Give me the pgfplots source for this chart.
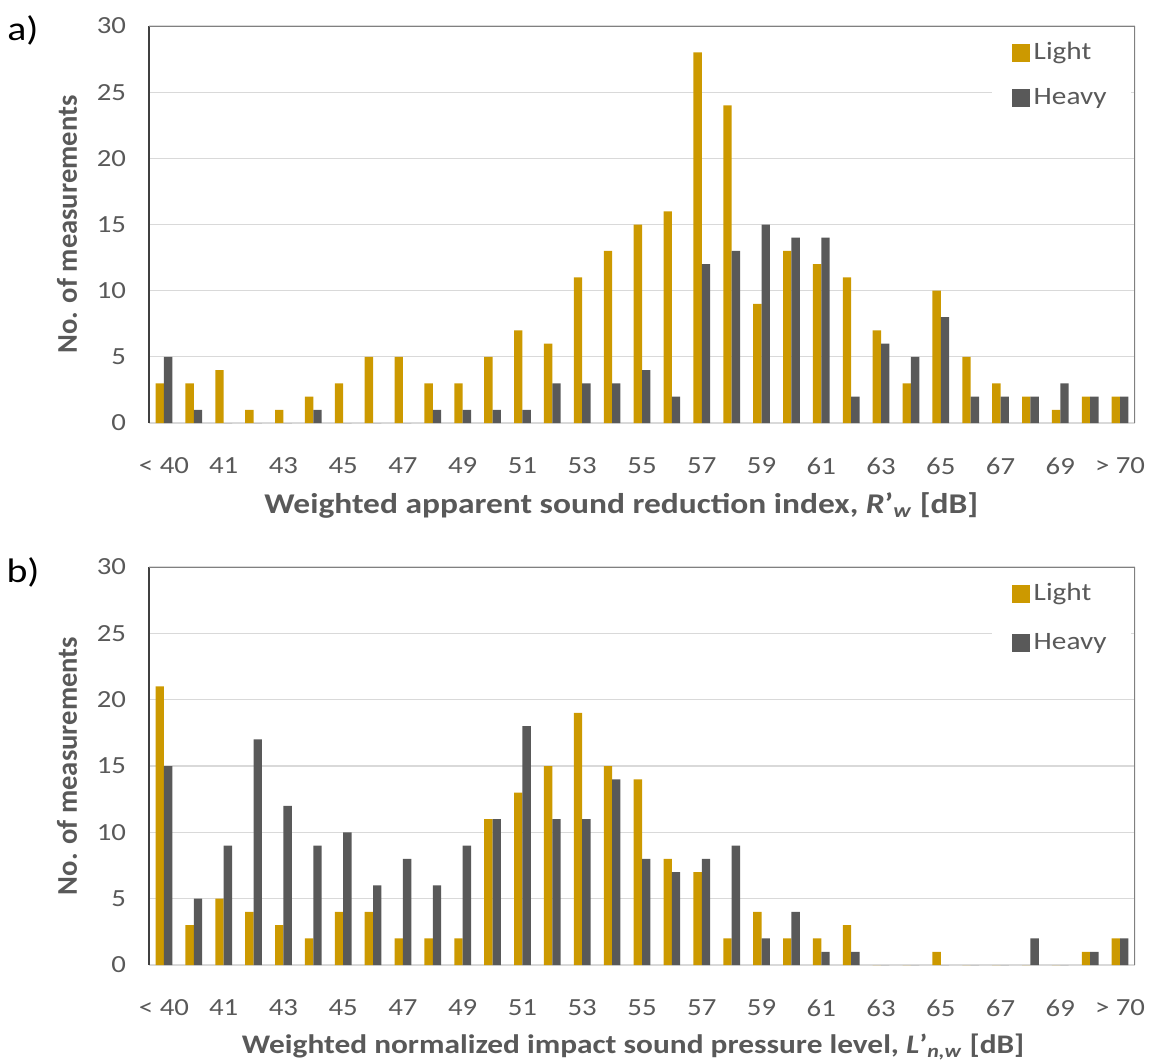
\documentclass[border=0pt]{standalone}
\usepackage{pgfplots}
\pgfplotsset{compat=1.18}
\usepackage{pgfplotstable}
\usepackage{fontspec}
\setmainfont{Carlito}[FakeStretch=1.17]
\newfontfamily\plainfont{Carlito}
\definecolor{lightc}{HTML}{CC9900}
\definecolor{heavyc}{HTML}{595959}
\definecolor{txt}{HTML}{595959}
\definecolor{gridc}{HTML}{D9D9D9}
\definecolor{framec}{HTML}{808080}

\pgfplotstableread{
idx light heavy
0 3 5
1 3 1
2 4 0
3 1 0
4 1 0
5 2 1
6 3 0
7 5 0
8 5 0
9 3 1
10 3 1
11 5 1
12 7 1
13 6 3
14 11 3
15 13 3
16 15 4
17 16 2
18 28 12
19 24 13
20 9 15
21 13 14
22 12 14
23 11 2
24 7 6
25 3 5
26 10 8
27 5 2
28 3 2
29 2 2
30 1 3
31 2 2
32 2 2
}\dataA

\pgfplotstableread{
idx light heavy
0 21 15
1 3 5
2 5 9
3 4 17
4 3 12
5 2 9
6 4 10
7 4 6
8 2 8
9 2 6
10 2 9
11 11 11
12 13 18
13 15 11
14 19 11
15 15 14
16 14 8
17 8 7
18 7 8
19 2 9
20 4 2
21 2 4
22 2 1
23 3 1
24 0 0
25 0 0
26 1 0
27 0 0
28 0 0
29 0 2
30 0 0
31 1 1
32 2 2
}\dataB

\pgfplotsset{
 mystyle/.style={
  scale only axis, width=493pt,
  ybar=0pt, bar width=0.28,
  xmin=-0.5, xmax=32.5, ymin=0, ymax=30,
  xtick={0,2,...,32},
  xticklabels={< 40,41,43,45,47,49,51,53,55,57,59,61,63,65,67,69,> 70},
  ytick={0,5,...,30},
  ymajorgrids, grid style={gridc, line width=0.6pt},
  major tick length=0pt,
  axis x line*=bottom, axis y line*=left,
  x axis line style={gridc, line width=0.8pt, -},
  y axis line style={black!75, line width=0.6pt, -},
  tick label style={font=\fontsize{12.3}{14}\selectfont, text=txt},
  /pgf/number format/assume math mode=true,
  yticklabel style={xshift=-8pt},
  xticklabel style={anchor=center, yshift=-21.5pt},
  ylabel={No. of measurements},
  every axis y label/.style={at={(axis description cs:-0.0832,0.5)}, rotate=90, anchor=center, font=\plainfont\bfseries\fontsize{14.3}{16}\selectfont, text=txt},
  every axis x label/.style={at={(axis description cs:0.479,0)}, anchor=center, yshift=-41pt, font=\bfseries\fontsize{14.3}{16}\selectfont, text=txt},
  legend style={draw=none, fill=white, font=\fontsize{12.5}{14}\selectfont, text=txt, inner xsep=10pt, inner ysep=3pt},
  legend cell align=left,
 }
}

\begin{document}
\begin{tikzpicture}
\path[use as bounding box] (0,0) rectangle (575.5pt,-530.5pt);
\node[font=\fontsize{17}{19}\selectfont, anchor=center] at (11.5pt,-15pt) {a)};
\node[font=\fontsize{17}{19}\selectfont, anchor=center] at (11.5pt,-286pt) {b)};

\begin{axis}[mystyle, height=198.5pt, at={(74.5pt,-211.5pt)}, anchor=south west,
  xlabel={Weighted apparent sound reduction index, \textit{R}'\textsubscript{\textit{w}} [dB]},
  legend style={at={(axis description cs:0.996,0.985)}, anchor=north east, row sep=9pt}]
\addplot[fill=lightc, draw=none, legend image code/.code={\fill[lightc] (0pt,-4.5pt) rectangle (9pt,4.5pt);}] table[x=idx, y=light] {\dataA};
\addplot[fill=heavyc, draw=none, legend image code/.code={\fill[heavyc] (0pt,-4.5pt) rectangle (9pt,4.5pt);}] table[x=idx, y=heavy] {\dataA};
\draw[framec, line width=1pt] (rel axis cs:0,1) -- (rel axis cs:1,1) -- (rel axis cs:1,0);
\legend{Light, Heavy}
\end{axis}

\begin{axis}[mystyle, height=199pt, at={(74.5pt,-482.5pt)}, anchor=south west,
  xlabel={Weighted normalized impact sound pressure level, \textit{L}'\textsubscript{\textit{n,w}} [dB]},
  every axis x label/.append style={at={(axis description cs:0.491,0)}, font=\bfseries\fontsize{13.4}{15}\selectfont},
  legend style={at={(axis description cs:0.996,0.985)}, anchor=north east, row sep=11pt}]
\addplot[fill=lightc, draw=none, legend image code/.code={\fill[lightc] (0pt,-4.5pt) rectangle (9pt,4.5pt);}] table[x=idx, y=light] {\dataB};
\addplot[fill=heavyc, draw=none, legend image code/.code={\fill[heavyc] (0pt,-4.5pt) rectangle (9pt,4.5pt);}] table[x=idx, y=heavy] {\dataB};
\draw[framec, line width=1pt] (rel axis cs:0,1) -- (rel axis cs:1,1) -- (rel axis cs:1,0);
\legend{Light, Heavy}
\end{axis}
\end{tikzpicture}
\end{document}
